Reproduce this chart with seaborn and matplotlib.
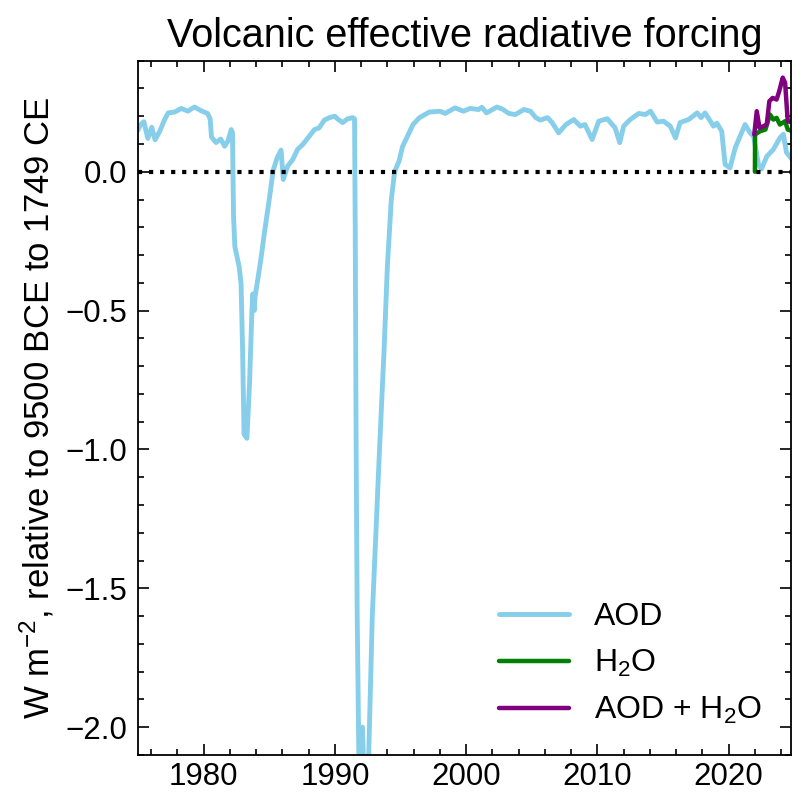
import numpy as np
import pandas as pd
import seaborn as sns
import matplotlib.pyplot as plt
from matplotlib.ticker import MultipleLocator

# AOD-based volcanic forcing
aod_year = [
    1975.0, 1975.2, 1975.45, 1975.75, 1976.05, 1976.3, 1976.65, 1977.0, 1977.3, 1977.8,
    1978.3, 1978.8, 1979.3, 1979.8, 1980.3, 1980.5, 1980.6, 1980.95, 1981.3, 1981.6,
    1981.85, 1982.1, 1982.2, 1982.28, 1982.38, 1982.7, 1982.85, 1982.97, 1983.08, 1983.3,
    1983.5, 1983.68, 1983.75, 1983.85, 1983.92, 1984.35, 1984.63, 1985.0, 1985.3, 1985.6,
    1985.9, 1986.07, 1986.4, 1986.8, 1987.15, 1987.55, 1988.05, 1988.45, 1988.8, 1989.2,
    1989.6, 1990.0, 1990.2, 1990.6, 1990.95, 1991.35, 1991.5, 1991.55, 1991.62, 1991.7,
    1991.85, 1992.1, 1992.3, 1992.55, 1992.85, 1993.4, 1993.75, 1994.0, 1994.3, 1994.55,
    1994.9, 1995.15, 1995.45, 1995.95, 1996.45, 1997.2, 1998.0, 1998.4, 1999.15, 1999.8,
    2000.3, 2000.95, 2001.2, 2001.55, 2002.35, 2002.75, 2003.25, 2003.75, 2004.4, 2004.9,
    2005.3, 2005.65, 2006.2, 2006.55, 2007.05, 2007.6, 2008.2, 2008.7, 2009.05, 2009.6,
    2010.1, 2010.75, 2010.95, 2011.35, 2011.7, 2012.0, 2012.5, 2013.15, 2013.65, 2014.05,
    2014.55, 2015.05, 2015.55, 2015.95, 2016.3, 2016.95, 2017.6, 2017.9, 2018.2, 2018.6,
    2018.85, 2019.1, 2019.47, 2019.73, 2020.1, 2020.5, 2020.87, 2021.25, 2021.63, 2021.9,
    2022.27, 2022.5, 2022.9, 2023.4, 2023.9, 2024.17, 2024.4, 2024.8,
]
aod_value = [
    0.15, 0.17, 0.18, 0.12, 0.16, 0.115, 0.145, 0.185, 0.212, 0.215,
    0.228, 0.218, 0.233, 0.22, 0.21, 0.19, 0.125, 0.105, 0.118, 0.092,
    0.11, 0.152, 0.14, -0.16, -0.27, -0.34, -0.4, -0.64, -0.945, -0.96,
    -0.76, -0.5, -0.44, -0.5, -0.45, -0.32, -0.22, -0.1, 0.005, 0.05,
    0.078, -0.028, 0.02, 0.045, 0.08, 0.098, 0.128, 0.152, 0.158, 0.186,
    0.195, 0.2, 0.19, 0.177, 0.19, 0.195, 0.19, -0.2, -1.0, -1.6,
    -2.2, -2.0, -2.3, -2.15, -1.6, -1.0, -0.64, -0.34, -0.1, 0.0,
    0.04, 0.09, 0.12, 0.17, 0.195, 0.215, 0.218, 0.21, 0.23, 0.218,
    0.228, 0.224, 0.232, 0.212, 0.233, 0.226, 0.21, 0.206, 0.224, 0.218,
    0.195, 0.186, 0.195, 0.177, 0.14, 0.17, 0.188, 0.164, 0.17, 0.116,
    0.182, 0.191, 0.18, 0.158, 0.105, 0.164, 0.188, 0.21, 0.206, 0.218,
    0.179, 0.182, 0.164, 0.122, 0.177, 0.188, 0.212, 0.195, 0.212, 0.182,
    0.164, 0.175, 0.146, 0.026, 0.014, 0.086, 0.128, 0.17, 0.14, 0.128,
    0.026, 0.01, 0.055, 0.08, 0.122, 0.135, 0.07, 0.046,
]

# stratospheric water vapour (Hunga Tonga) forcing
h2o_year = [2022.0, 2022.01, 2022.4, 2022.8, 2023.15, 2023.4, 2023.65, 2023.9, 2024.3, 2024.5, 2024.9]
h2o_value = [0.0, 0.134, 0.146, 0.152, 0.206, 0.188, 0.194, 0.17, 0.182, 0.152, 0.146]

# combined AOD + H2O
total_year = [2021.95, 2022.14, 2022.35, 2022.65, 2022.9, 2023.1, 2023.35, 2023.65, 2023.85, 2024.12, 2024.3, 2024.5, 2024.9]
total_value = [0.134, 0.218, 0.158, 0.164, 0.17, 0.254, 0.266, 0.26, 0.29, 0.339, 0.32, 0.182, 0.176]

sns.set_style("ticks")
plt.rcParams['font.family'] = ['Liberation Sans', 'DejaVu Sans']
plt.rcParams['mathtext.fontset'] = 'custom'
plt.rcParams['mathtext.rm'] = 'Liberation Sans'
plt.rcParams['mathtext.it'] = 'Liberation Sans:italic'
plt.rcParams['mathtext.bf'] = 'Liberation Sans:bold'
plt.rcParams['text.color'] = 'black'
plt.rcParams['axes.labelcolor'] = 'black'
plt.rcParams['xtick.color'] = 'black'
plt.rcParams['ytick.color'] = 'black'
plt.rcParams['axes.edgecolor'] = 'black'

fig = plt.figure(figsize=(7.93, 7.93), dpi=100)
ax = fig.add_axes([0.174, 0.048, 0.8235, 0.8755])

aod = pd.DataFrame({'year': aod_year, 'forcing': aod_value})
h2o = pd.DataFrame({'year': h2o_year, 'forcing': h2o_value})
total = pd.DataFrame({'year': total_year, 'forcing': total_value})

sns.lineplot(data=aod, x='year', y='forcing', ax=ax, color='skyblue', lw=3.5, label='AOD')
sns.lineplot(data=h2o, x='year', y='forcing', ax=ax, color='green', lw=3.2, label='H$_2$O')
sns.lineplot(data=total, x='year', y='forcing', ax=ax, color='purple', lw=3.2, label='AOD + H$_2$O')
ax.axhline(0, color='k', ls=':', lw=3)

ax.set_xlim(1975, 2024.75)
ax.set_ylim(-2.1, 0.4)
ax.xaxis.set_major_locator(MultipleLocator(10))
ax.xaxis.set_minor_locator(MultipleLocator(2))
ax.yaxis.set_major_locator(MultipleLocator(0.5))
ax.yaxis.set_minor_locator(MultipleLocator(0.1))
ax.tick_params(which='both', direction='in', top=True, right=True, labelsize=22.5, width=1.2)
ax.tick_params(which='major', length=8)
ax.tick_params(axis='x', which='major', pad=5)
ax.tick_params(axis='y', which='major', pad=8)
ax.tick_params(which='minor', length=4.5)
for s in ax.spines.values():
    s.set_linewidth(1.3)

ax.set_xlabel('')
ax.set_ylabel('W m$^{-2}$, relative to 9500 BCE to 1749 CE', fontsize=25, labelpad=6)
ax.set_title('Volcanic effective radiative forcing', fontsize=28.5, pad=10)
ax.legend(loc='lower right', frameon=False, fontsize=23, handlelength=2.2)

fig.savefig('out.png', dpi=100)
